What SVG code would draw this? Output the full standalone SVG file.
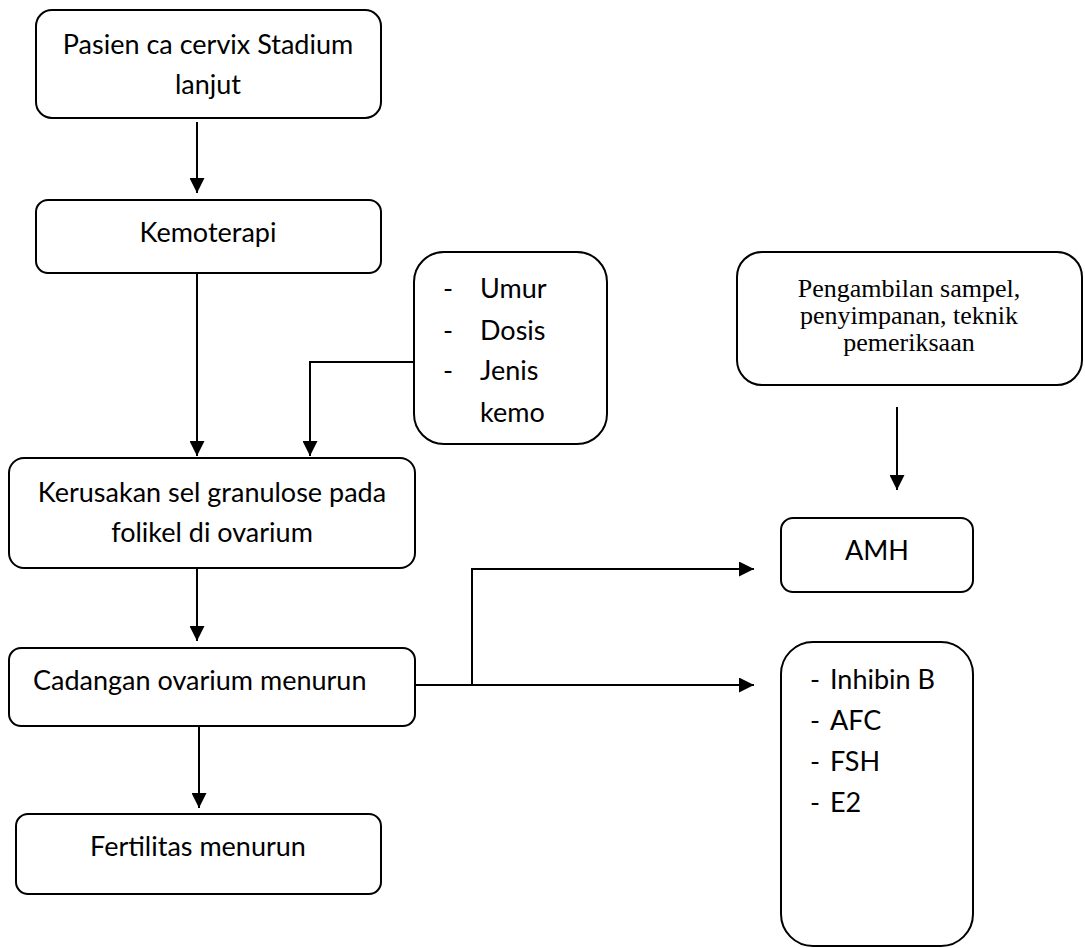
<svg xmlns="http://www.w3.org/2000/svg" width="1085" height="948" viewBox="0 0 1085 948">
<style>
.box{fill:#fff;stroke:#000;stroke-width:2}
.t{font-family:Lato,"Open Sans","Liberation Sans",sans-serif;font-size:27px;fill:#000}
.c{text-anchor:middle}
.tr{font-family:"Liberation Serif","Times New Roman",serif;font-size:26px;fill:#000;text-anchor:middle}
.ln{fill:none;stroke:#000;stroke-width:2}
</style>
<defs>
<marker id="ah" markerUnits="userSpaceOnUse" markerWidth="15" markerHeight="15" refX="15" refY="7.5" orient="auto">
<path d="M0,0 L15,7.5 L0,15 z" fill="#000"/>
</marker>
</defs>
<rect width="1085" height="948" fill="#fff"/>
<g id="connectors">
<path class="ln" d="M197,122 V193" marker-end="url(#ah)"/>
<path class="ln" d="M197,273 V456" marker-end="url(#ah)"/>
<path class="ln" d="M414,362 H310 V456" marker-end="url(#ah)"/>
<path class="ln" d="M197,568 V641" marker-end="url(#ah)"/>
<path class="ln" d="M199,726 V808" marker-end="url(#ah)"/>
<path class="ln" d="M415,685 H754" marker-end="url(#ah)"/>
<path class="ln" d="M472,685 V569 H754" marker-end="url(#ah)"/>
<path class="ln" d="M897,407 V490" marker-end="url(#ah)"/>
</g>
<g id="n-pasien">
<rect class="box" x="36" y="10" width="345" height="108" rx="16"/>
<text class="t c" x="208" y="54">Pasien ca cervix Stadium</text>
<text class="t c" x="208" y="94">lanjut</text>
</g>
<g id="n-kemoterapi">
<rect class="box" x="36" y="200" width="345" height="73" rx="12"/>
<text class="t c" x="208" y="242">Kemoterapi</text>
</g>
<g id="n-faktor">
<rect class="box" x="414" y="252" width="193" height="192" rx="30"/>
<text class="t" x="443" y="298">-</text><text class="t" x="480" y="298">Umur</text>
<text class="t" x="443" y="340">-</text><text class="t" x="480" y="340">Dosis</text>
<text class="t" x="443" y="380">-</text><text class="t" x="480" y="380">Jenis</text>
<text class="t" x="480" y="422">kemo</text>
</g>
<g id="n-pengambilan">
<rect class="box" x="737" y="252" width="345" height="133" rx="25"/>
<text class="tr" x="909" y="297">Pengambilan sampel,</text>
<text class="tr" x="909" y="324">penyimpanan, teknik</text>
<text class="tr" x="909" y="351">pemeriksaan</text>
</g>
<g id="n-kerusakan">
<rect class="box" x="9" y="458" width="406" height="110" rx="15"/>
<text class="t c" x="212" y="502">Kerusakan sel granulose pada</text>
<text class="t c" x="212" y="542">folikel di ovarium</text>
</g>
<g id="n-amh">
<rect class="box" x="781" y="518" width="192" height="74" rx="12"/>
<text class="t c" x="877" y="560">AMH</text>
</g>
<g id="n-cadangan">
<rect class="box" x="9" y="648" width="406" height="78" rx="12"/>
<text class="t" x="33" y="690">Cadangan ovarium menurun</text>
</g>
<g id="n-lain">
<rect class="box" x="781" y="642" width="192" height="304" rx="32"/>
<text class="t" x="810" y="689">-</text><text class="t" x="830" y="689">Inhibin B</text>
<text class="t" x="810" y="730">-</text><text class="t" x="830" y="730">AFC</text>
<text class="t" x="810" y="771">-</text><text class="t" x="830" y="771">FSH</text>
<text class="t" x="810" y="812">-</text><text class="t" x="830" y="812">E2</text>
</g>
<g id="n-fertilitas">
<rect class="box" x="16" y="814" width="365" height="80" rx="12"/>
<text class="t c" x="198" y="856">Fertilitas menurun</text>
</g>
</svg>
